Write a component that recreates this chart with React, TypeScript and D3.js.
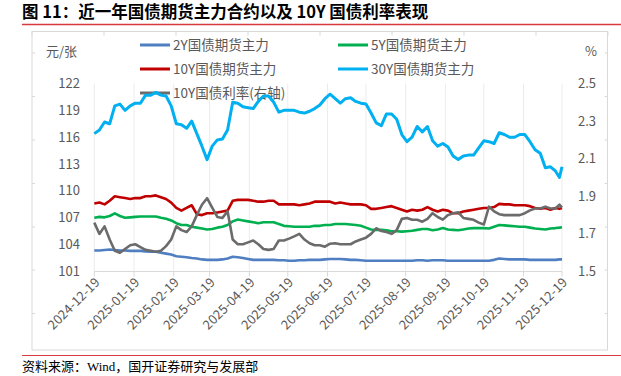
import React from "react";
import * as d3 from "d3";

const dates = [
  "2024-12-19","2024-12-23","2024-12-27","2024-12-31","2025-01-04","2025-01-08","2025-01-12","2025-01-16",
  "2025-01-20","2025-01-24","2025-01-28","2025-02-01","2025-02-05","2025-02-09","2025-02-13","2025-02-17",
  "2025-02-21","2025-02-25","2025-03-01","2025-03-05","2025-03-09","2025-03-13","2025-03-17","2025-03-21",
  "2025-03-25","2025-03-29","2025-04-02","2025-04-06","2025-04-10","2025-04-14","2025-04-18","2025-04-22",
  "2025-04-26","2025-04-30","2025-05-04","2025-05-08","2025-05-12","2025-05-16","2025-05-20","2025-05-24",
  "2025-05-28","2025-06-01","2025-06-05","2025-06-09","2025-06-13","2025-06-17","2025-06-21","2025-06-25",
  "2025-06-29","2025-07-03","2025-07-07","2025-07-11","2025-07-15","2025-07-19","2025-07-23","2025-07-27",
  "2025-07-31","2025-08-04","2025-08-08","2025-08-12","2025-08-16","2025-08-20","2025-08-24","2025-08-28",
  "2025-09-01","2025-09-05","2025-09-09","2025-09-13","2025-09-17","2025-09-21","2025-09-25","2025-09-29",
  "2025-10-03","2025-10-07","2025-10-11","2025-10-15","2025-10-19","2025-10-23","2025-10-27","2025-10-31",
  "2025-11-04","2025-11-08","2025-11-12","2025-11-16","2025-11-20","2025-11-24","2025-11-28","2025-12-02",
  "2025-12-06","2025-12-10","2025-12-14","2025-12-17","2025-12-19",
];

const bond2Y = [
  103.35,103.35,103.4,103.45,103.4,103.35,103.35,103.3,103.3,103.3,103.25,103.2,103.2,103.1,103.0,102.9,
  102.7,102.65,102.6,102.5,102.45,102.35,102.3,102.3,102.3,102.35,102.45,102.65,102.6,102.5,102.4,102.3,
  102.3,102.3,102.3,102.3,102.25,102.25,102.2,102.2,102.25,102.25,102.3,102.3,102.3,102.35,102.4,102.4,
  102.4,102.35,102.3,102.3,102.25,102.2,102.2,102.2,102.2,102.2,102.2,102.2,102.2,102.2,102.2,102.25,
  102.25,102.2,102.25,102.25,102.25,102.2,102.2,102.2,102.2,102.2,102.2,102.2,102.2,102.2,102.3,102.45,
  102.4,102.35,102.35,102.35,102.35,102.3,102.3,102.3,102.3,102.3,102.3,102.35,102.35,
];

const bond5Y = [
  107.0,107.1,107.05,107.2,107.5,107.2,107.0,107.05,107.1,107.15,107.15,107.15,107.15,107.0,106.9,106.7,
  106.4,106.2,106.2,106.0,105.9,105.8,105.7,105.75,105.9,106.0,106.2,106.6,106.8,106.7,106.6,106.5,
  106.4,106.5,106.5,106.5,106.3,106.1,106.05,106.0,106.0,106.0,106.0,106.1,106.1,106.2,106.2,106.3,
  106.3,106.3,106.25,106.2,106.1,105.9,105.7,105.65,105.65,105.6,105.5,105.5,105.45,105.5,105.55,105.65,
  105.75,105.75,105.6,105.7,105.85,105.7,105.65,105.6,105.7,105.8,105.85,105.85,105.85,105.8,106.0,106.2,
  106.15,106.1,106.05,106.0,106.0,105.9,105.8,105.75,105.7,105.8,105.85,105.9,105.95,
];

const bond10Y = [
  108.6,108.7,108.5,108.9,109.4,109.3,109.2,109.1,109.2,109.2,109.4,109.4,109.5,109.3,109.1,108.7,
  108.1,107.8,108.1,108.4,107.4,107.3,107.5,107.5,107.6,107.7,107.8,108.9,109.0,109.0,109.0,108.9,
  108.8,108.8,108.9,108.9,108.5,108.5,108.5,108.5,108.4,108.5,108.6,108.8,108.8,108.8,108.8,108.6,
  108.7,108.6,108.5,108.5,108.5,108.4,108.0,108.0,108.1,108.2,108.3,108.1,107.9,107.7,107.9,107.8,
  107.9,108.2,107.9,107.7,107.9,107.8,107.5,107.5,107.7,107.8,107.9,108.0,108.1,108.1,108.2,108.55,
  108.5,108.5,108.4,108.4,108.4,108.3,108.1,108.0,108.1,107.9,108.1,108.0,108.1,
];

const bond30Y = [
  116.4,116.8,117.7,117.5,119.5,119.7,119.0,119.5,119.8,119.8,120.7,120.7,121.0,120.7,120.6,119.5,
  117.5,117.4,117.0,117.8,116.4,115.0,113.5,115.0,115.7,115.8,116.8,119.9,119.8,119.4,119.3,119.2,
  120.0,120.6,120.6,119.9,118.8,119.0,119.0,119.0,118.8,118.7,118.9,119.2,119.6,120.3,120.8,120.3,
  119.8,120.3,120.4,120.0,119.8,119.7,118.7,117.6,117.3,118.6,118.6,118.0,116.3,115.5,116.0,117.2,
  116.6,117.2,115.6,115.0,115.3,114.9,113.9,113.5,113.9,114.0,114.0,114.8,115.6,115.5,115.3,116.5,
  116.3,116.0,116.0,116.3,116.3,115.5,114.6,114.2,112.6,112.7,112.2,111.5,112.7,
];

const yield10Y = [
  1.76,1.70,1.74,1.67,1.61,1.60,1.62,1.64,1.645,1.63,1.615,1.61,1.605,1.61,1.635,1.67,
  1.74,1.72,1.71,1.74,1.80,1.855,1.89,1.84,1.79,1.785,1.82,1.67,1.645,1.645,1.655,1.665,
  1.645,1.62,1.615,1.62,1.665,1.665,1.675,1.687,1.70,1.67,1.65,1.64,1.64,1.632,1.648,1.65,
  1.645,1.645,1.645,1.66,1.67,1.68,1.70,1.73,1.715,1.71,1.70,1.72,1.78,1.785,1.775,1.775,
  1.765,1.78,1.81,1.79,1.776,1.80,1.81,1.815,1.785,1.78,1.775,1.76,1.75,1.845,1.82,1.805,
  1.80,1.80,1.80,1.80,1.81,1.825,1.835,1.835,1.845,1.835,1.835,1.856,1.84,
];

const xTickLabels = [
  "2024-12-19","2025-01-19","2025-02-19","2025-03-19","2025-04-19","2025-05-19","2025-06-19",
  "2025-07-19","2025-08-19","2025-09-19","2025-10-19","2025-11-19","2025-12-19",
];
const leftTicks = [101, 104, 107, 110, 113, 116, 119, 122];
const rightTicks = [1.5, 1.7, 1.9, 2.1, 2.3, 2.5];

const seriesNames = ["2Y国债期货主力", "5Y国债期货主力", "10Y国债期货主力", "30Y国债期货主力", "10Y国债利率(右轴)"];
const seriesColors = ["#4F7FC0", "#00B050", "#C00000", "#00B0F0", "#6B6B6B"];

const FONT = "'Noto Sans CJK SC', 'Noto Sans', sans-serif";

export default function App() {
  const parse = d3.timeParse("%Y-%m-%d");
  const dateObjs = dates.map((s) => parse(s) as Date);
  const x = d3
    .scaleTime()
    .domain([parse("2024-12-19") as Date, parse("2025-12-19") as Date])
    .range([94.3, 562]);
  const yL = d3.scaleLinear().domain([101, 122]).range([271.5, 83.5]);
  const yR = d3.scaleLinear().domain([1.5, 2.5]).range([271.5, 83.5]);

  const lineL = d3
    .line<number>()
    .x((_, i) => x(dateObjs[i]))
    .y((v) => yL(v));
  const lineR = d3
    .line<number>()
    .x((_, i) => x(dateObjs[i]))
    .y((v) => yR(v));

  const tickDates = xTickLabels.map((s) => parse(s) as Date);

  const frame = { x0: 32, x1: 607.5, y0: 31.5, y1: 350 };
  const topTicks = d3.range(frame.x0, frame.x1 + 1, 72);
  const sideTicks = [53, 96.5, 140, 183.5, 227, 270, 313.5];

  const legendRows = [
    { idx: 0, lx: 140, ly: 45 },
    { idx: 1, lx: 338, ly: 45 },
    { idx: 2, lx: 140, ly: 69 },
    { idx: 3, lx: 338, ly: 69 },
    { idx: 4, lx: 140, ly: 93 },
  ];

  const seriesL = [bond2Y, bond5Y, bond10Y, bond30Y];

  return (
    <svg
      width={621}
      height={376}
      style={{ position: "absolute", left: 0, top: 0, background: "#fff" }}
      fontFamily={FONT}
    >
      <rect x={0} y={0} width={621} height={376} fill="#fff" />
      {/* title */}
      <text x={22} y={18} fontSize={16.5} fontWeight="bold" fill="#000">
        图 11：近一年国债期货主力合约以及 10Y 国债利率表现
      </text>
      <line x1={22} x2={621} y1={24.5} y2={24.5} stroke="#D8383F" strokeWidth={1.3} />

      {/* frame */}
      <rect
        x={frame.x0}
        y={frame.y0}
        width={frame.x1 - frame.x0}
        height={frame.y1 - frame.y0}
        fill="none"
        stroke="#D9D9D9"
        strokeWidth={1}
      />
      {topTicks.map((t, i) => (
        <line key={"tt" + i} x1={t} x2={t} y1={frame.y0} y2={frame.y0 + 4} stroke="#D9D9D9" />
      ))}
      {sideTicks.map((t, i) => (
        <g key={"st" + i}>
          <line x1={frame.x0} x2={frame.x0 + 3} y1={t} y2={t} stroke="#D9D9D9" />
          <line x1={frame.x1 - 3} x2={frame.x1} y1={t} y2={t} stroke="#D9D9D9" />
        </g>
      ))}

      {/* vertical gridlines */}
      {tickDates.map((t, i) => (
        <line
          key={"g" + i}
          x1={x(t)}
          x2={x(t)}
          y1={83.5}
          y2={271.5}
          stroke="#ECECEC"
          strokeWidth={1}
        />
      ))}
      {/* x axis */}
      <line x1={94.3} x2={562} y1={271.5} y2={271.5} stroke="#D9D9D9" strokeWidth={1} />
      {tickDates.map((t, i) => (
        <line key={"xt" + i} x1={x(t)} x2={x(t)} y1={271.5} y2={276.5} stroke="#D9D9D9" />
      ))}
      {tickDates.map((t, i) => (
        <text
          key={"xl" + i}
          transform={`translate(${x(t) + 3},${280}) rotate(-45)`}
          textAnchor="end"
          dy="0.35em"
          fontSize={13}
          fill="#595959"
        >
          {xTickLabels[i]}
        </text>
      ))}

      {/* left axis labels */}
      {leftTicks.map((v) => (
        <text key={"yl" + v} x={80} y={yL(v)} dy="0.35em" textAnchor="end" fontSize={13} fill="#595959">
          {v}
        </text>
      ))}
      <text x={46} y={51} dy="0.35em" fontSize={13} fill="#595959">
        元/张
      </text>
      {/* right axis labels */}
      {rightTicks.map((v) => (
        <text key={"yr" + v} x={578} y={yR(v)} dy="0.35em" textAnchor="start" fontSize={13} fill="#595959">
          {v.toFixed(1)}
        </text>
      ))}
      <text x={585} y={51} dy="0.35em" fontSize={13} fill="#595959">
        %
      </text>

      {/* legend */}
      {legendRows.map((r) => (
        <g key={"lg" + r.idx}>
          <line
            x1={r.lx}
            x2={r.lx + 30}
            y1={r.ly}
            y2={r.ly}
            stroke={seriesColors[r.idx]}
            strokeWidth={3}
          />
          <text x={r.lx + 33} y={r.ly} dy="0.35em" fontSize={13.5} fill="#595959">
            {seriesNames[r.idx]}
          </text>
        </g>
      ))}

      {/* series */}
      {seriesL.map((s, i) => (
        <path
          key={"s" + i}
          d={lineL(s) || ""}
          fill="none"
          stroke={seriesColors[i]}
          strokeWidth={i === 3 ? 3 : 2.6}
          strokeLinejoin="round"
        />
      ))}
      <path
        d={lineR(yield10Y) || ""}
        fill="none"
        stroke={seriesColors[4]}
        strokeWidth={2.6}
        strokeLinejoin="round"
      />

      {/* footer */}
      <line x1={22} x2={621} y1={355.5} y2={355.5} stroke="#D8383F" strokeWidth={1.2} />
      <text x={22} y={366} dy="0.35em" fontSize={13} fill="#000" fontFamily="'Liberation Serif', 'Noto Sans CJK SC', serif">
        资料来源：Wind，国开证券研究与发展部
      </text>
    </svg>
  );
}
